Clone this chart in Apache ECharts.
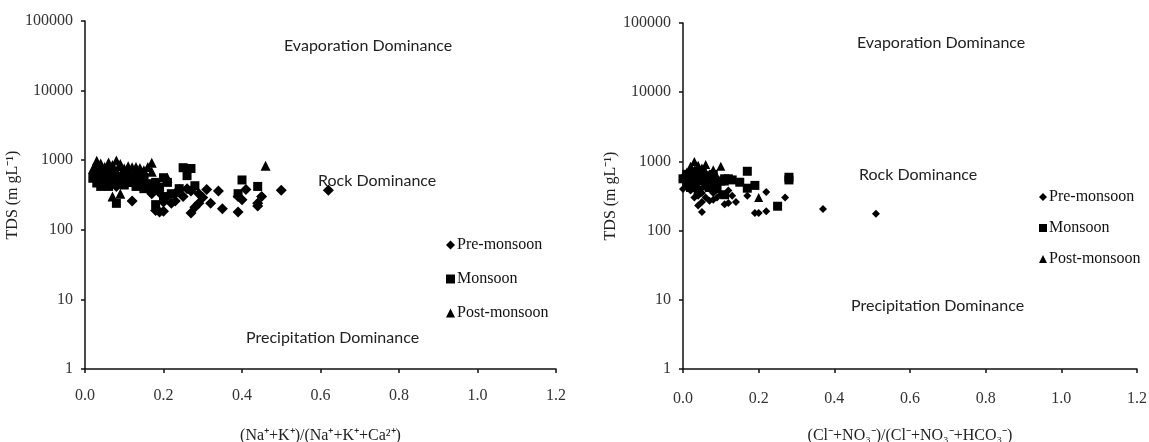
<!DOCTYPE html>
<html>
<head>
<meta charset="utf-8">
<script src="https://cdn.jsdelivr.net/npm/echarts@6/dist/echarts.min.js"></script>
<style>
  html, body { margin: 0; padding: 0; background: #fff; }
  #chart { width: 1149px; height: 442px; }
</style>
</head>
<body>
<div id="chart"></div>
<script>
// Gibbs plots: cation ratio (left) and anion ratio (right) vs TDS
const seasons = ['Pre-monsoon', 'Monsoon', 'Post-monsoon'];
const xTicks = [0, 0.2, 0.4, 0.6, 0.8, 1.0, 1.2];
const yTicks = [1, 10, 100, 1000, 10000, 100000];

// left panel: (Na+ + K+)/(Na+ + K+ + Ca2+)
const cationPre = [
  [0.05, 480], [0.08, 420], [0.12, 260], [0.14, 560], [0.16, 400], [0.18, 190],
  [0.19, 340], [0.19, 180], [0.20, 185], [0.20, 250], [0.21, 300], [0.22, 240],
  [0.23, 260], [0.24, 380], [0.25, 300], [0.26, 390], [0.27, 360], [0.27, 175],
  [0.28, 210], [0.29, 240], [0.29, 330], [0.30, 290], [0.31, 380], [0.32, 240],
  [0.34, 360], [0.35, 200], [0.39, 180], [0.39, 300], [0.40, 270], [0.41, 380],
  [0.44, 220], [0.44, 240], [0.45, 300], [0.50, 370], [0.62, 370], [0.10, 520],
  [0.17, 330], [0.23, 330]
];
const cationMon = [
  [0.03, 470], [0.03, 620], [0.04, 520], [0.04, 700], [0.05, 450], [0.05, 580],
  [0.06, 640], [0.06, 420], [0.07, 520], [0.07, 680], [0.08, 240], [0.08, 580],
  [0.09, 460], [0.10, 620], [0.10, 440], [0.11, 560], [0.12, 480], [0.13, 640],
  [0.13, 420], [0.14, 470], [0.15, 560], [0.15, 390], [0.16, 430], [0.17, 380],
  [0.18, 480], [0.18, 230], [0.19, 410], [0.20, 560], [0.20, 300], [0.21, 480],
  [0.22, 330], [0.24, 390], [0.25, 780], [0.26, 600], [0.27, 760], [0.28, 430],
  [0.40, 520], [0.44, 420], [0.39, 330], [0.02, 550], [0.04, 420], [0.06, 520],
  [0.09, 560], [0.11, 480], [0.14, 560], [0.17, 460]
];
const cationPost = [
  [0.03, 980], [0.03, 850], [0.04, 900], [0.04, 720], [0.05, 800], [0.05, 650],
  [0.06, 930], [0.06, 760], [0.07, 850], [0.07, 620], [0.08, 990], [0.08, 700],
  [0.09, 820], [0.09, 880], [0.10, 760], [0.10, 650], [0.11, 820], [0.12, 790],
  [0.13, 800], [0.13, 700], [0.14, 770], [0.15, 720], [0.16, 800], [0.17, 920],
  [0.17, 680], [0.07, 300], [0.09, 330], [0.06, 560], [0.12, 600], [0.46, 830],
  [0.21, 560], [0.04, 600], [0.02, 750], [0.11, 700], [0.15, 650]
];

// right panel: (Cl- + NO3-)/(Cl- + NO3- + HCO3-)
const anionPre = [
  [0.01, 450], [0.02, 380], [0.02, 600], [0.03, 300], [0.03, 520], [0.04, 230],
  [0.04, 420], [0.05, 185], [0.05, 350], [0.05, 260], [0.06, 480], [0.06, 300],
  [0.07, 400], [0.08, 280], [0.08, 350], [0.09, 430], [0.10, 330], [0.11, 240],
  [0.12, 380], [0.12, 250], [0.13, 320], [0.14, 260], [0.17, 320], [0.19, 180],
  [0.20, 180], [0.22, 190], [0.22, 360], [0.27, 300], [0.37, 205], [0.51, 175],
  [0.00, 400], [0.04, 320], [0.07, 270], [0.09, 300]
];
const anionMon = [
  [0.01, 500], [0.01, 650], [0.02, 420], [0.02, 560], [0.03, 700], [0.03, 480],
  [0.04, 600], [0.04, 380], [0.05, 520], [0.05, 700], [0.06, 440], [0.06, 620],
  [0.07, 560], [0.08, 480], [0.08, 650], [0.09, 400], [0.10, 520], [0.11, 560],
  [0.12, 560], [0.13, 540], [0.15, 500], [0.17, 720], [0.17, 410], [0.19, 450],
  [0.25, 225], [0.28, 590], [0.28, 540], [0.11, 330], [0.00, 560], [0.07, 420]
];
const anionPost = [
  [0.01, 700], [0.02, 850], [0.02, 620], [0.03, 1000], [0.03, 760], [0.04, 880],
  [0.04, 560], [0.05, 800], [0.06, 700], [0.06, 900], [0.07, 650], [0.08, 760],
  [0.09, 600], [0.10, 850], [0.11, 520], [0.20, 300], [0.03, 450], [0.00, 620]
];

const serif = 'Liberation Serif';
const sans = 'Lato';

const chart = echarts.init(document.getElementById('chart'));

const xAxisOpt = function (gridIndex, name, labelMargin) {
  return {
    gridIndex: gridIndex,
    type: 'value',
    min: xTicks[0],
    max: xTicks[xTicks.length - 1],
    interval: 0.2,
    name: name,
    nameLocation: 'middle',
    nameGap: 59,
    nameTextStyle: { fontFamily: serif, fontSize: 16, color: '#222' },
    axisLine: { lineStyle: { color: '#111', width: 1.5 } },
    axisTick: { length: 4, lineStyle: { color: '#111', width: 1.5 } },
    axisLabel: {
      fontFamily: serif, fontSize: 16, color: '#333', margin: labelMargin,
      formatter: function (v) { return v.toFixed(1); }
    },
    splitLine: { show: false }
  };
};

const yAxisOpt = function (gridIndex, name, nameGap) {
  return {
    gridIndex: gridIndex,
    type: 'log',
    logBase: 10,
    min: yTicks[0],
    max: yTicks[yTicks.length - 1],
    splitNumber: 5,
    name: name,
    nameLocation: 'middle',
    nameRotate: 90,
    nameGap: nameGap,
    nameTextStyle: { fontFamily: serif, fontSize: 16, color: '#222' },
    axisLine: { lineStyle: { color: '#111', width: 1.5 } },
    axisTick: { length: 4, lineStyle: { color: '#111', width: 1.5 } },
    axisLabel: {
      fontFamily: serif, fontSize: 16, color: '#333', margin: 12,
      formatter: function (v) { return String(Math.round(v)); }
    },
    splitLine: { show: false }
  };
};

const symbols = ['diamond', 'rect', 'triangle'];

const makeSeries = function (idx, name, data, size) {
  return {
    type: 'scatter',
    name: name,
    xAxisIndex: idx,
    yAxisIndex: idx,
    data: data,
    symbol: symbols[seasons.indexOf(name)],
    symbolSize: size,
    itemStyle: { color: '#000', opacity: 1 },
    emphasis: { disabled: true }
  };
};

const legendOpt = function (left, top, gap, iconSize) {
  return {
    orient: 'vertical',
    left: left,
    top: top,
    itemGap: gap,
    itemWidth: iconSize,
    itemHeight: iconSize,
    selectedMode: false,
    textStyle: { fontFamily: serif, fontSize: 16, color: '#111', padding: [0, 0, 0, -3] },
    data: seasons.map(function (s, i) { return { name: s, icon: symbols[i] }; })
  };
};

const note = function (left, top, text) {
  return {
    type: 'text',
    left: left,
    top: top,
    style: { text: text, fontFamily: sans, fontSize: 16, fill: '#222' }
  };
};

const option = {
  animation: false,
  backgroundColor: '#fff',
  grid: [
    { left: 85, right: 593, top: 21, bottom: 73, outerBoundsMode: 'none' },
    { left: 683, right: 12, top: 23, bottom: 73, outerBoundsMode: 'none' }
  ],
  xAxis: [
    xAxisOpt(0, '(Na\u207A+K\u207A)/(Na\u207A+K\u207A+Ca\u00B2\u207A)', 19),
    xAxisOpt(1, '(Cl\u207B+NO\u2083\u207B)/(Cl\u207B+NO\u2083\u207B+HCO\u2083\u207B)', 22)
  ],
  yAxis: [
    yAxisOpt(0, 'TDS (m gL\u207B\u00B9)', 55),
    yAxisOpt(1, 'TDS (m gL\u207B\u00B9)', 53)
  ],
  legend: [
    legendOpt(441, 232, 18, 9),
    legendOpt(1034, 184, 15, 8)
  ],
  graphic: [
    note(284, 38, 'Evaporation Dominance'),
    note(318, 173, 'Rock Dominance'),
    note(246, 330, 'Precipitation Dominance'),
    note(857, 35, 'Evaporation Dominance'),
    note(859, 167, 'Rock Dominance'),
    note(851, 298, 'Precipitation Dominance')
  ],
  series: [
    makeSeries(0, 'Pre-monsoon', cationPre, 11),
    makeSeries(0, 'Monsoon', cationMon, 9),
    makeSeries(0, 'Post-monsoon', cationPost, 10),
    makeSeries(1, 'Pre-monsoon', anionPre, 8),
    makeSeries(1, 'Monsoon', anionMon, 9),
    makeSeries(1, 'Post-monsoon', anionPost, 9)
  ]
};

chart.setOption(option);
</script>
</body>
</html>
